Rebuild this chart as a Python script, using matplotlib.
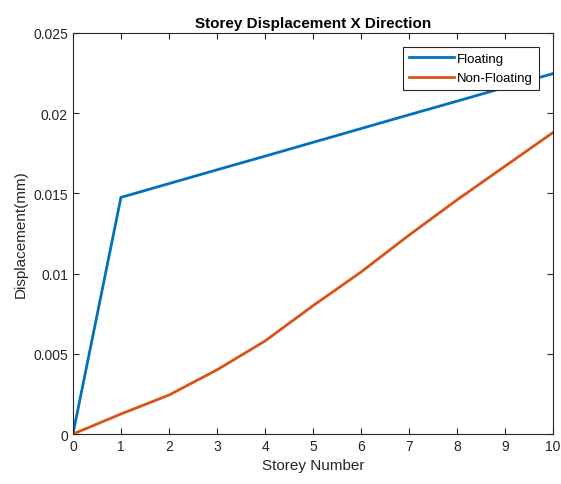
import numpy as np
import matplotlib.pyplot as plt

plt.rcParams['font.family'] = ['Liberation Sans', 'DejaVu Sans']

# Dados
storey = [0, 1, 2, 3, 4, 5, 6, 7, 8, 9, 10]
floating = [0, 0.01475, 0.01561, 0.01647, 0.01732, 0.01818, 0.01904, 0.0199, 0.02075, 0.02161, 0.02247]
non_floating = [0, 0.00125, 0.00243, 0.0040, 0.0058, 0.0080, 0.0101, 0.0124, 0.0146, 0.0167, 0.0188]

fig = plt.figure(figsize=(5.61, 4.85), dpi=100)
ax = fig.add_axes([0.130, 0.103, 0.856, 0.827])

ax.plot(storey, floating, color='#0072BD', lw=2, label='Floating')
ax.plot(storey, non_floating, color='#D95319', lw=2, label='Non-Floating')

ax.set_xlim(0, 10)
ax.set_ylim(0, 0.025)
ax.set_xticks(range(0, 11))
ax.set_yticks([0, 0.005, 0.01, 0.015, 0.02, 0.025])
ax.set_yticklabels(['0', '0.005', '0.01', '0.015', '0.02', '0.025'])
ax.tick_params(direction='in', top=True, right=True, labelsize=10, colors='#262626', length=4)
for s in ax.spines.values():
    s.set_color('#262626')
    s.set_linewidth(0.8)

ax.set_xlabel('Storey Number', fontsize=11, color='#262626')
ax.set_ylabel('Displacement(mm)', fontsize=11, color='#262626')
ax.set_title('Storey Displacement X Direction', fontsize=11, fontweight='bold', pad=4)

leg = ax.legend(loc='upper right', fontsize=9.5, fancybox=False, framealpha=1,
                edgecolor='#262626', handlelength=3.4, handletextpad=0.2,
                borderaxespad=0.0, bbox_to_anchor=(0.970, 0.966),
                borderpad=0.45, labelspacing=0.55)
leg.get_frame().set_linewidth(0.8)

fig.savefig('out.png', dpi=100)
